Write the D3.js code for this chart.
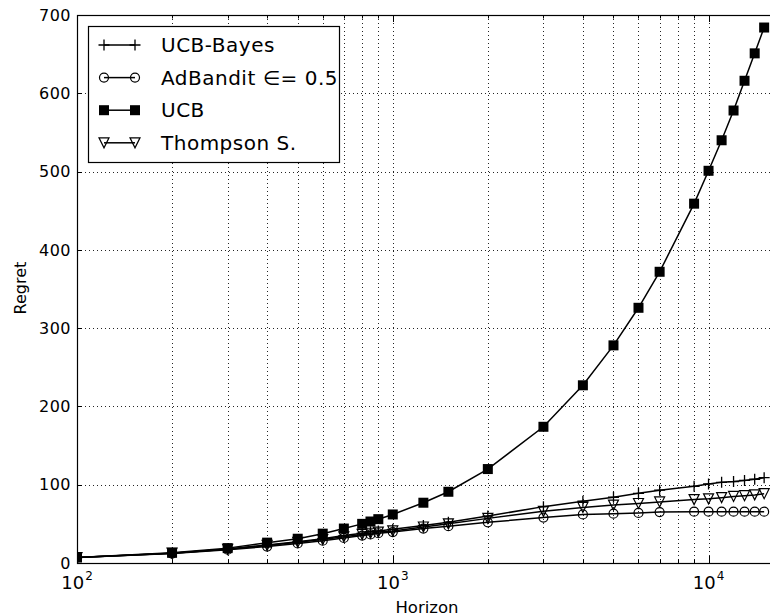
<!DOCTYPE html>
<html>
<head>
<meta charset="utf-8">
<script src="https://cdn.jsdelivr.net/npm/d3@7"></script>
<style>
  html, body { margin: 0; padding: 0; background: #fff; }
  svg { display: block; font-family: "DejaVu Sans", sans-serif; }
</style>
</head>
<body>
<svg id="chart" width="770" height="616"></svg>
<script>
// ---- data ----
const horizon = [100, 200, 300, 400, 500, 600, 700, 800, 850, 900, 1000, 1250, 1500, 2000, 3000, 4000, 5000, 6000, 7000, 9000, 10000, 11000, 12000, 13000, 14000, 15000];
const ucbBayes = [7, 12.5, 18, 23, 27, 31, 35, 38, 40, 41, 43, 48, 52, 60, 72, 79, 84, 89, 93, 98, 101, 103, 104, 105.5, 107, 109];
const adBandit = [7, 12, 17, 21, 25, 28.5, 32, 35, 36.5, 38, 39.5, 44, 47, 52, 58, 62, 63, 64, 65, 65.5, 65.5, 65.5, 65.5, 65.5, 65.5, 65.5];
const ucb = [7, 13, 19, 26, 31, 37.5, 44, 50, 53, 56, 62, 77, 91, 120, 174, 227, 278, 326, 372, 459, 501, 540, 578, 616, 651, 684];
const thompson = [7, 12.5, 17.5, 22.5, 26.5, 30, 33.5, 36.5, 38, 39.5, 41, 46, 50, 57, 66, 71, 74, 76, 78, 81, 82, 83.5, 85, 86, 87, 88.5];
const seriesNames = ["UCB-Bayes", "AdBandit \u2208= 0.5", "UCB", "Thompson S."];
const seriesMarkers = ["plus", "circle", "square", "triangle"];
const yTicks = [0, 100, 200, 300, 400, 500, 600, 700];
const xMajorTicks = [100, 1000, 10000];
const xMinorTicks = [200, 300, 400, 500, 600, 700, 800, 900, 2000, 3000, 4000, 5000, 6000, 7000, 8000, 9000];
const xTickExp = ["2", "3", "4"];

const series = [ucbBayes, adBandit, ucb, thompson].map((vals, i) => ({
  name: seriesNames[i], marker: seriesMarkers[i],
  points: horizon.map((h, j) => ({x: h, y: vals[j]}))
}));

// ---- layout ----
const L = 77, R = 773, T = 15, B = 563;
const svg = d3.select("#chart");
const x = d3.scaleLog().domain([100, 16000]).range([L, R]);
const y = d3.scaleLinear().domain([0, 700]).range([B, T]);

svg.append("defs").append("clipPath").attr("id", "clip")
  .append("rect").attr("x", L).attr("y", T).attr("width", R - L).attr("height", B - T);

// grid
const grid = svg.append("g").attr("stroke", "#000").attr("stroke-width", 1)
  .attr("stroke-dasharray", "1,3").attr("opacity", 0.85);
xMajorTicks.concat(xMinorTicks).forEach(v => {
  if (v <= 100) return;
  const px = Math.round(x(v)) + 0.5;
  grid.append("line").attr("x1", px).attr("x2", px).attr("y1", T).attr("y2", B);
});
yTicks.forEach(v => {
  if (v === 0 || v === 700) return;
  const py = Math.round(y(v)) + 0.5;
  grid.append("line").attr("x1", L).attr("x2", R).attr("y1", py).attr("y2", py);
});

// ticks (inward)
const ticks = svg.append("g").attr("stroke", "#000").attr("stroke-width", 1);
yTicks.forEach(v => {
  const py = Math.round(y(v)) + 0.5;
  ticks.append("line").attr("x1", L).attr("x2", L + 5).attr("y1", py).attr("y2", py);
});
xMajorTicks.forEach(v => {
  const px = Math.round(x(v)) + 0.5;
  ticks.append("line").attr("x1", px).attr("x2", px).attr("y1", B).attr("y2", B - 7);
  ticks.append("line").attr("x1", px).attr("x2", px).attr("y1", T).attr("y2", T + 7);
});
xMinorTicks.forEach(v => {
  const px = Math.round(x(v)) + 0.5;
  ticks.append("line").attr("x1", px).attr("x2", px).attr("y1", B).attr("y2", B - 3.5);
  ticks.append("line").attr("x1", px).attr("x2", px).attr("y1", T).attr("y2", T + 3.5);
});

// marker drawer
function drawMarker(g, type, cx, cy) {
  if (type === "plus") {
    g.append("path").attr("d", `M${cx - 5.5},${cy}H${cx + 5.5}M${cx},${cy - 5.5}V${cy + 5.5}`)
      .attr("stroke", "#000").attr("stroke-width", 1.3).attr("fill", "none");
  } else if (type === "circle") {
    g.append("circle").attr("cx", cx).attr("cy", cy).attr("r", 4.5)
      .attr("stroke", "#000").attr("stroke-width", 1.2).attr("fill", "none");
  } else if (type === "square") {
    g.append("rect").attr("x", cx - 5).attr("y", cy - 5).attr("width", 10).attr("height", 10)
      .attr("fill", "#000");
  } else if (type === "triangle") {
    g.append("path").attr("d", `M${cx - 5},${cy - 5}L${cx + 5},${cy - 5}L${cx},${cy + 5}Z`)
      .attr("stroke", "#000").attr("stroke-width", 1.2).attr("fill", "none");
  }
}

// series
const plot = svg.append("g").attr("clip-path", "url(#clip)");
const line = d3.line().x(d => x(d.x)).y(d => y(d.y));
series.forEach(s => {
  plot.append("path").datum(s.points).attr("d", line)
    .attr("fill", "none").attr("stroke", "#000").attr("stroke-width", 1.5);
  s.points.forEach(p => drawMarker(plot, s.marker, x(p.x), y(p.y)));
});

// frame
svg.append("rect").attr("x", L + 0.5).attr("y", T + 0.5).attr("width", R - L).attr("height", B - T)
  .attr("fill", "none").attr("stroke", "#000").attr("stroke-width", 1.2);

// y tick labels
svg.append("g").selectAll("text").data(yTicks).join("text")
  .attr("x", 71).attr("y", d => y(d)).attr("dy", "0.36em")
  .attr("text-anchor", "end").attr("font-size", 16).attr("letter-spacing", 0.5)
  .text(d => d);

// x tick labels
xMajorTicks.forEach((v, i) => {
  const t = svg.append("text").attr("x", x(v)).attr("y", 589)
    .attr("text-anchor", "middle").attr("font-size", 18);
  t.append("tspan").text("10");
  t.append("tspan").attr("font-size", 12).attr("dy", -9).attr("dx", 1).text(xTickExp[i]);
});

// axis titles
svg.append("text").attr("x", (L + R) / 2 + 2).attr("y", 613)
  .attr("text-anchor", "middle").attr("font-size", 16.5).text("Horizon");
svg.append("text").attr("transform", "translate(26,288) rotate(-90)")
  .attr("text-anchor", "middle").attr("font-size", 16).text("Regret");

// legend
const lg = svg.append("g");
lg.append("rect").attr("x", 88.5).attr("y", 26.5).attr("width", 251).attr("height", 136)
  .attr("fill", "#fff").attr("stroke", "#000").attr("stroke-width", 1.2);
series.forEach((s, i) => {
  const ry = 45 + i * 32.6;
  lg.append("line").attr("x1", 104).attr("x2", 135).attr("y1", ry).attr("y2", ry)
    .attr("stroke", "#000").attr("stroke-width", 1.5);
  drawMarker(lg, s.marker, 104, ry);
  drawMarker(lg, s.marker, 135, ry);
  lg.append("text").attr("x", 161).attr("y", ry).attr("dy", "0.36em")
    .attr("font-size", 20).attr("letter-spacing", 0.5).text(s.name);
});
</script>
</body>
</html>
